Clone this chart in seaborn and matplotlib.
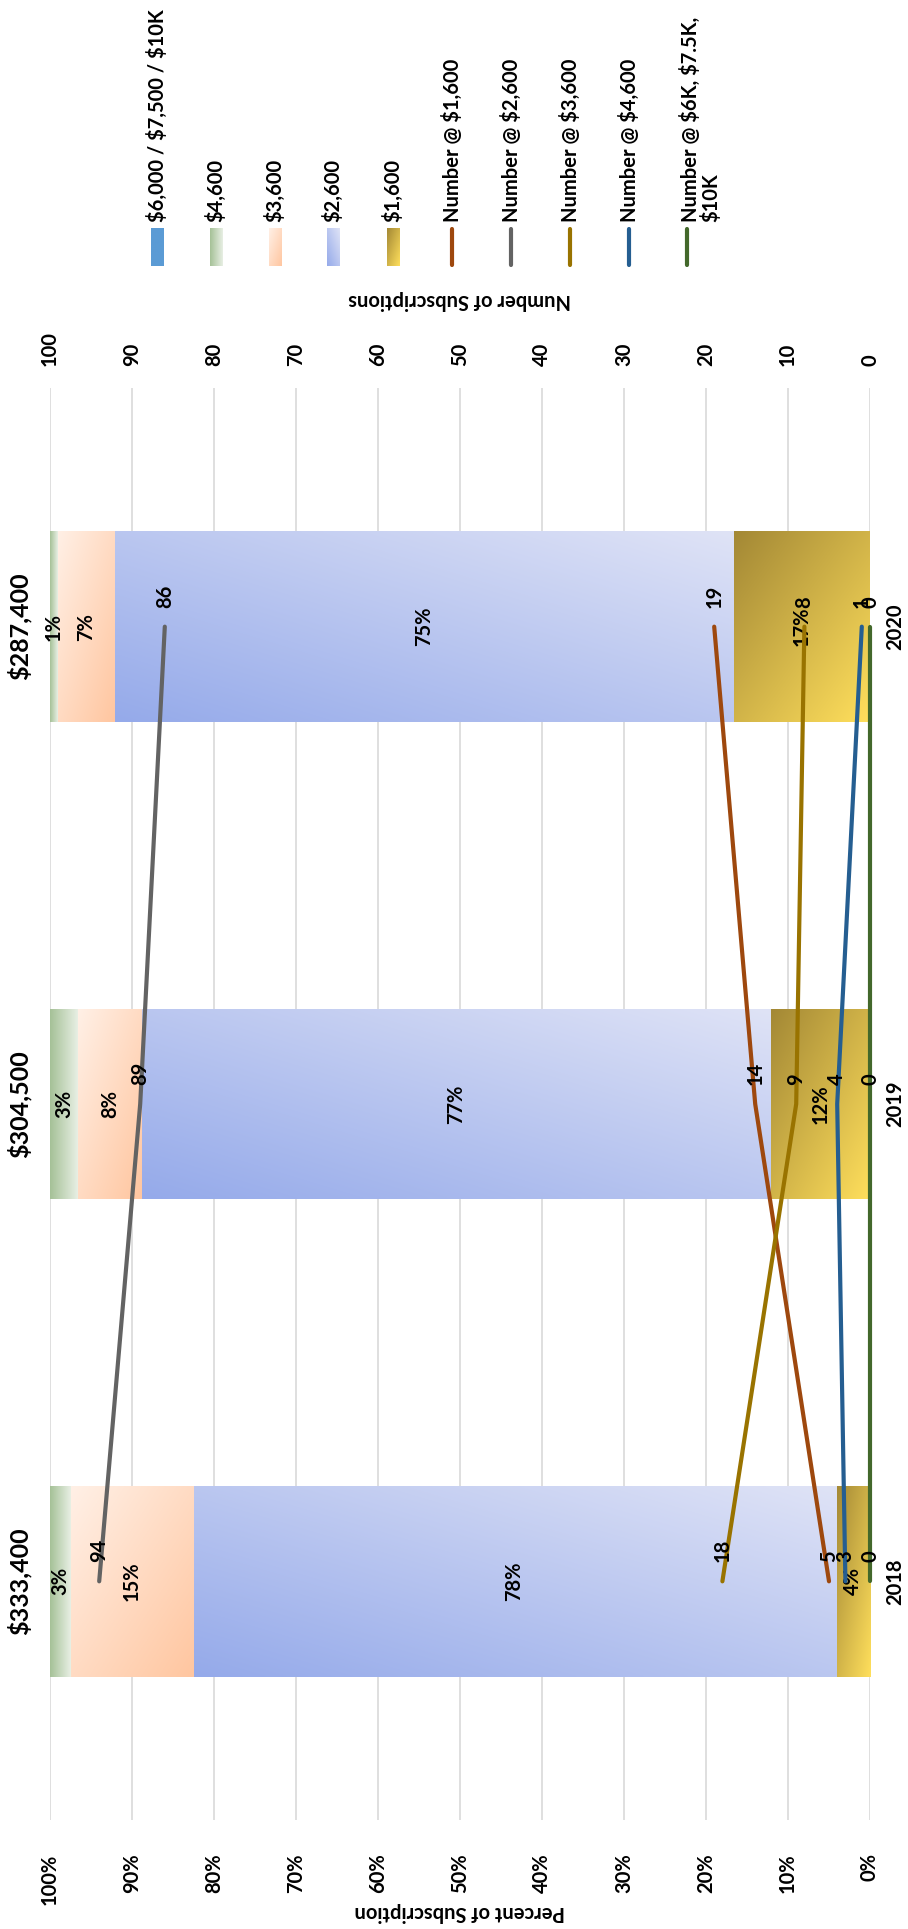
import numpy as np
import matplotlib
matplotlib.use("Agg")
import matplotlib.pyplot as plt
import seaborn as sns
from matplotlib.colors import to_rgb
from matplotlib.patches import Rectangle
from matplotlib.lines import Line2D

# ---------------- data ----------------
years = ["2018", "2019", "2020"]
totals = ["$333,400", "$304,500", "$287,400"]
pct_1600 = [4.2, 12.1, 16.7]
pct_2600 = [78.3, 76.7, 75.4]
pct_3600 = [15.0, 7.8, 7.0]
pct_4600 = [2.5, 3.4, 0.9]
pct_6000 = [0.0, 0.0, 0.0]
num_1600 = [5, 14, 19]
num_2600 = [94, 89, 86]
num_3600 = [18, 9, 8]
num_4600 = [3, 4, 1]
num_6000 = [0, 0, 0]
pct_ticks = [0, 10, 20, 30, 40, 50, 60, 70, 80, 90, 100]
num_ticks = [0, 10, 20, 30, 40, 50, 60, 70, 80, 90, 100]
bar_names = ["$1,600", "$2,600", "$3,600", "$4,600", "$6,000 / $7,500 / $10K"]
line_names = ["Number @ $1,600", "Number @ $2,600", "Number @ $3,600",
              "Number @ $4,600", "Number @ $6K, $7.5K,\n$10K"]

# ---------------- style ----------------
sns.set_theme(style="white")
plt.rcParams['font.family'] = ['Lato', 'DejaVu Sans']
FS = 14.5
# gradient (start, end, mode) in display orientation
bar_styles = [
    ("#A38835", "#FFDF5C", "tl-br"),
    ("#95AAEA", "#DFE3F6", "bl-tr"),
    ("#FFF0E6", "#FFC6A0", "tl-br"),
    ("#A5C197", "#E8EFE4", "lr"),
    ("#5B9BD5", "#5B9BD5", "lr"),
]
line_colors = ["#9E480E", "#636363", "#997300", "#255E91", "#43682B"]
LW = 3.0

W, H = 908, 1929
fig = plt.figure(figsize=(W / 100, H / 100), dpi=100)
PX0, PX1, PY0, PY1 = 50, 870, 388, 1820
ax = fig.add_axes([PX0 / W, 1 - PY1 / H, (PX1 - PX0) / W, (PY1 - PY0) / H])
lax = fig.add_axes([0, 0, 1, 1], zorder=-1)
lax.set_xlim(0, W); lax.set_ylim(H, 0); lax.axis("off")


def grad_image(a, xl, xr, yb, yt, c0, c1, mode, clip=None, z=2):
    n = 80
    u = np.linspace(0, 1, n)[None, :]
    v = np.linspace(0, 1, n)[:, None]
    if mode == "tl-br":
        t = (u + v) / 2
    elif mode == "bl-tr":
        t = (u + (1 - v)) / 2
    else:
        t = u + 0 * v
    c0 = np.array(to_rgb(c0)); c1 = np.array(to_rgb(c1))
    img = c0 + (c1 - c0) * t[..., None]
    im = a.imshow(img, extent=(xl, xr, yb, yt), origin="upper", aspect="auto",
                  interpolation="bilinear", zorder=z)
    if clip is not None:
        im.set_clip_path(clip)
    return im


pos = np.arange(len(years))
series = [pct_1600, pct_2600, pct_3600, pct_4600, pct_6000]
left = np.zeros(len(years))
ax.set_xlim(100, 0)
ax.set_ylim(-0.5, 2.5)
for vals, (c0, c1, mode) in zip(series, bar_styles):
    vals = np.array(vals, dtype=float)
    bars = ax.barh(pos, vals, left=left, height=0.4, color=c1, linewidth=0, zorder=2)
    for b in bars:
        w = b.get_width()
        if w <= 0:
            continue
        x, y, h = b.get_x(), b.get_y(), b.get_height()
        grad_image(ax, x + w, x, y, y + h, c0, c1, mode, clip=b, z=2.1)
    for i, v in enumerate(vals):
        if v > 0:
            ax.text(left[i] + v / 2, pos[i], f"{int(v + 0.5)}%", rotation=90,
                    ha="center", va="center", fontsize=FS, fontweight="bold",
                    color="black", zorder=5)
    left += vals
ax.set_xlim(100, 0)
ax.set_ylim(-0.5, 2.5)

for i, t in enumerate(totals):
    ax.text(103.7, pos[i], t, rotation=90, ha="center", va="center",
            fontsize=18, fontweight="bold", color="black", clip_on=False,
            parse_math=False)

ax.set_xticks(pct_ticks)
ax.set_xticklabels([f"{t}%" for t in pct_ticks], rotation=90,
                   fontsize=FS, fontweight="bold", color="black")
ax.tick_params(axis="x", length=0, pad=24)
ax.set_yticks(pos)
ax.set_yticklabels(years, rotation=90, va="center", fontsize=FS,
                   fontweight="bold", color="black")
ax.yaxis.tick_right()
ax.tick_params(axis="y", length=0, pad=11)
ax.grid(axis="x", color="#D9D9D9", lw=1.2)
ax.grid(axis="y", visible=False)
ax.set_axisbelow(True)
for s in ax.spines.values():
    s.set_visible(False)

# secondary axis with lines
ax2 = ax.twiny()
ax2.set_xlim(100, 0)
nums = [num_1600, num_2600, num_3600, num_4600, num_6000]
for vals, col in zip(nums, line_colors):
    sns.lineplot(x=vals, y=pos, orient="y", sort=False, color=col, lw=LW,
                 ax=ax2, legend=False, solid_capstyle="round", clip_on=False)
    for i, v in enumerate(vals):
        ax2.text(v, pos[i] + 0.04, str(v), rotation=90, ha="center", va="bottom",
                 fontsize=FS, fontweight="bold", color="black", zorder=6)
ax2.set_xlim(100, 0)
ax2.set_ylim(-0.5, 2.5)
ax2.set_xlabel(""); ax2.set_ylabel("")
ax2.set_xticks(num_ticks)
ax2.set_xticklabels([str(t) for t in num_ticks], rotation=90, fontsize=FS,
                    fontweight="bold", color="black")
ax2.tick_params(axis="x", length=0, pad=16)
ax2.grid(False)
for s in ax2.spines.values():
    s.set_visible(False)

# axis titles
lax.text(460, 1912, "Percent of Subscription", rotation=180, ha="center", va="center",
         fontsize=FS, fontweight="bold", color="black")
lax.text(460, 300, "Number of Subscriptions", rotation=180, ha="center", va="center",
         fontsize=FS, fontweight="bold", color="black")

# legend
leg_x = [157, 216, 275, 333, 393, 452, 511, 570, 629, 687]
bar_order = [4, 3, 2, 1, 0]
for k, bi in enumerate(bar_order):
    xc = leg_x[k]
    c0, c1, mode = bar_styles[bi]
    r = Rectangle((xc - 6.5, 228), 13, 38, facecolor=c1, lw=0)
    lax.add_patch(r)
    grad_image(lax, xc - 6.5, xc + 6.5, 266, 228, c0, c1, mode, clip=r, z=3)
    lax.text(xc, 222, bar_names[bi], rotation=90, ha="center", va="bottom",
             fontsize=FS, fontweight="bold", color="black", parse_math=False)
for k in range(5):
    xc = leg_x[5 + k]
    lax.add_line(Line2D([xc, xc], [229, 265], color=line_colors[k], lw=LW,
                        solid_capstyle="round"))
    tx = xc + (13.5 if "\n" in line_names[k] else 0)
    lax.text(tx, 222, line_names[k], rotation=90, ha="center", va="bottom",
             fontsize=FS, fontweight="bold", color="black", multialignment="left",
             linespacing=1.0, parse_math=False)

fig.savefig("out.png", dpi=100)
